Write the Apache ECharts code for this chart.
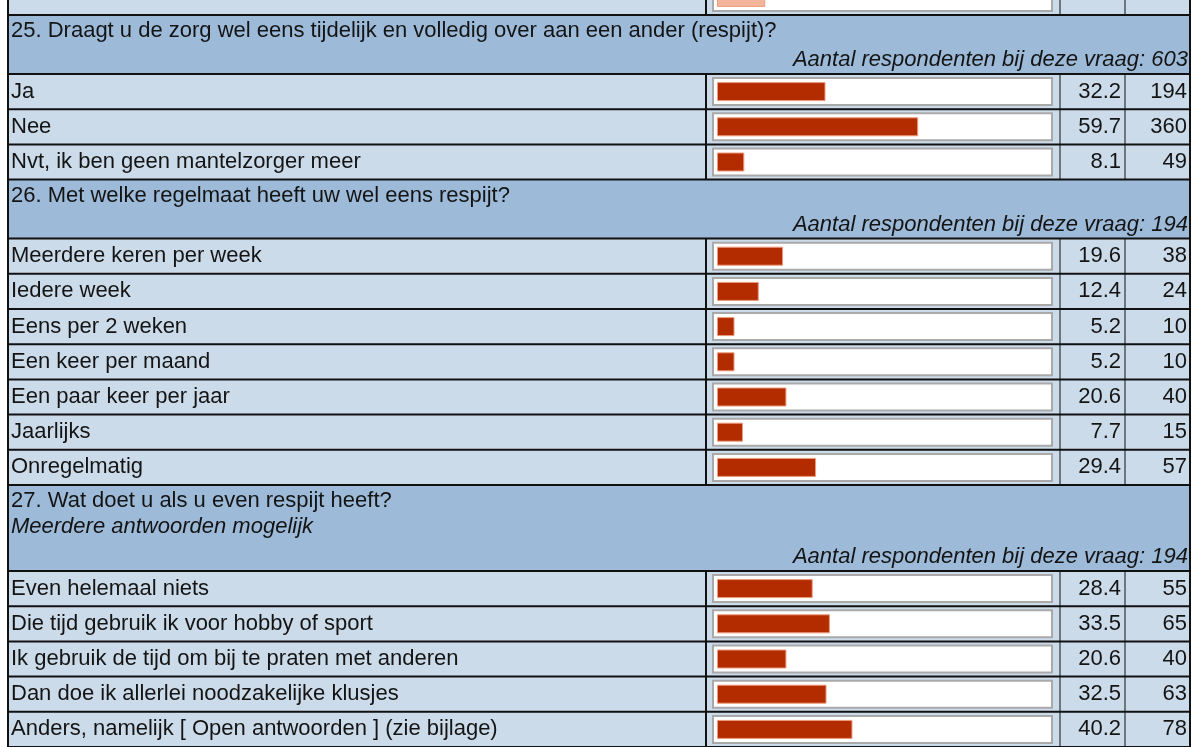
<!DOCTYPE html>
<html>
<head>
<meta charset="utf-8">
<script src="https://cdn.jsdelivr.net/npm/echarts@6/dist/echarts.min.js"></script>
<style>
  html, body { margin: 0; padding: 0; background: #fff; }
  #chart { width: 1199px; height: 747px; }
</style>
</head>
<body>
<div id="chart"></div>
<script>
// row cut off at the top of the page (only the bottom edge of its bar shows)
const prevPct = [14.3];

const q25Title = ['25. Draagt u de zorg wel eens tijdelijk en volledig over aan een ander (respijt)?'];
const q25Respondents = 603;
const q25Labels = ['Ja', 'Nee', 'Nvt, ik ben geen mantelzorger meer'];
const q25Pct = [32.2, 59.7, 8.1];
const q25Count = [194, 360, 49];

const q26Title = ['26. Met welke regelmaat heeft uw wel eens respijt?'];
const q26Respondents = 194;
const q26Labels = ['Meerdere keren per week', 'Iedere week', 'Eens per 2 weken', 'Een keer per maand',
  'Een paar keer per jaar', 'Jaarlijks', 'Onregelmatig'];
const q26Pct = [19.6, 12.4, 5.2, 5.2, 20.6, 7.7, 29.4];
const q26Count = [38, 24, 10, 10, 40, 15, 57];

const q27Title = ['27. Wat doet u als u even respijt heeft?'];
const q27Note = 'Meerdere antwoorden mogelijk';
const q27Respondents = 194;
const q27Labels = ['Even helemaal niets', 'Die tijd gebruik ik voor hobby of sport',
  'Ik gebruik de tijd om bij te praten met anderen', 'Dan doe ik allerlei noodzakelijke klusjes',
  'Anders, namelijk [ Open antwoorden ] (zie bijlage)'];
const q27Pct = [28.4, 33.5, 20.6, 32.5, 40.2];
const q27Count = [55, 65, 40, 63, 78];

// layout
const FONT = '"Liberation Sans", Arial, sans-serif';
const FS = 22;
const TEXT = '#141414';
const HEAD_BG = '#9dbbd9';
const ROW_BG = '#ccdbe9';
const LEFT = 8, RIGHT = 1190;
const COL1 = 706, COL2 = 1060, COL3 = 1125;
const BAR_X0 = 717, BAR_W = 337;
const ROW_H = 35.2;

const sections = [
  { head: null, labels: [''], pct: prevPct, count: [''] },
  { head: q25Title, note: null, resp: q25Respondents, headH: 59, labels: q25Labels, pct: q25Pct, count: q25Count },
  { head: q26Title, note: null, resp: q26Respondents, headH: 59, labels: q26Labels, pct: q26Pct, count: q26Count },
  { head: q27Title, note: q27Note, resp: q27Respondents, headH: 86, labels: q27Labels, pct: q27Pct, count: q27Count }
];

let y = 15 - ROW_H;
const grids = [], xAxes = [], yAxes = [], series = [], graphics = [];
const hLines = [];

function addLine(x1, y1, x2, y2, w) {
  graphics.push({ type: 'line', z: 5, silent: true,
    shape: { x1: x1, y1: y1, x2: x2, y2: y2 },
    style: { stroke: '#111', lineWidth: w } });
}

sections.forEach(function (s, i) {
  if (s.head) {
    const top = y, h = s.headH;
    graphics.push({ type: 'rect', z: 0, silent: true,
      shape: { x: LEFT, y: top, width: RIGHT - LEFT, height: h },
      style: { fill: HEAD_BG } });
    const lines = s.head.map(function (t) { return { t: t, italic: false }; });
    if (s.note) lines.push({ t: s.note, italic: true });
    lines.forEach(function (l, k) {
      graphics.push({ type: 'text', z: 6, silent: true, x: 11, y: top + 16 + 26 * k,
        style: { text: l.t, fill: TEXT, fontSize: FS, fontFamily: FONT,
          fontStyle: l.italic ? 'italic' : 'normal', verticalAlign: 'middle', align: 'left' } });
    });
    graphics.push({ type: 'text', z: 6, silent: true, x: 1188, y: top + h - 14,
      style: { text: 'Aantal respondenten bij deze vraag: ' + s.resp, fill: TEXT, fontSize: FS,
        fontFamily: FONT, fontStyle: 'italic', verticalAlign: 'middle', align: 'right' } });
    hLines.push(top);
    y += h;
  }
  const top = y, n = s.labels.length, h = n * ROW_H;
  graphics.push({ type: 'rect', z: 0, silent: true,
    shape: { x: LEFT, y: top, width: RIGHT - LEFT, height: h },
    style: { fill: ROW_BG } });
  for (let k = 0; k < n; k++) {
    const cy = top + (k + 0.5) * ROW_H;
    graphics.push({ type: 'rect', z: 1, silent: true,
      shape: { x: 713, y: cy - 13.5, width: 339, height: 27 },
      style: { fill: '#fff', stroke: '#a9a9a9', lineWidth: 2 } });
    hLines.push(top + k * ROW_H);
  }
  addLine(COL1, top, COL1, top + h, 2);
  addLine(COL2, top, COL2, top + h, 1);
  addLine(COL3, top, COL3, top + h, 1);

  grids.push({ left: BAR_X0, top: top, width: BAR_W, height: h, outerBoundsMode: 'none' });
  xAxes.push({ gridIndex: i, type: 'value', min: 0, max: 100, show: false });
  const base = { gridIndex: i, type: 'category', inverse: true,
    axisLine: { show: false }, axisTick: { show: false }, splitLine: { show: false } };
  yAxes.push(Object.assign({}, base, { position: 'left', data: s.labels,
    axisLabel: { interval: 0, align: 'left', margin: BAR_X0 - 11, color: TEXT, fontSize: FS, fontFamily: FONT } }));
  yAxes.push(Object.assign({}, base, { position: 'right',
    data: s.pct.map(function (v) { return s.count[0] === '' ? '' : v.toFixed(1); }),
    axisLabel: { interval: 0, align: 'right', margin: 1121 - (BAR_X0 + BAR_W), color: TEXT, fontSize: FS, fontFamily: FONT } }));
  yAxes.push(Object.assign({}, base, { position: 'right', data: s.count.map(String),
    axisLabel: { interval: 0, align: 'right', margin: 1187 - (BAR_X0 + BAR_W), color: TEXT, fontSize: FS, fontFamily: FONT } }));
  series.push({ type: 'bar', xAxisIndex: i, yAxisIndex: 3 * i, data: s.pct, barWidth: 19, silent: true,
    itemStyle: { color: i === 0 ? '#f3b49c' : '#b22c00', borderColor: '#ee9a7c', borderWidth: 1 } });
  y += h;
});
hLines.push(y);

hLines.forEach(function (ly) { addLine(LEFT, ly, RIGHT, ly, 2); });
addLine(LEFT, 0, LEFT, 747, 2);
addLine(RIGHT, 0, RIGHT, 747, 2);

const chart = echarts.init(document.getElementById('chart'));
chart.setOption({
  animation: false,
  backgroundColor: '#fff',
  grid: grids,
  xAxis: xAxes,
  yAxis: yAxes,
  series: series,
  graphic: { elements: graphics }
});
</script>
</body>
</html>
